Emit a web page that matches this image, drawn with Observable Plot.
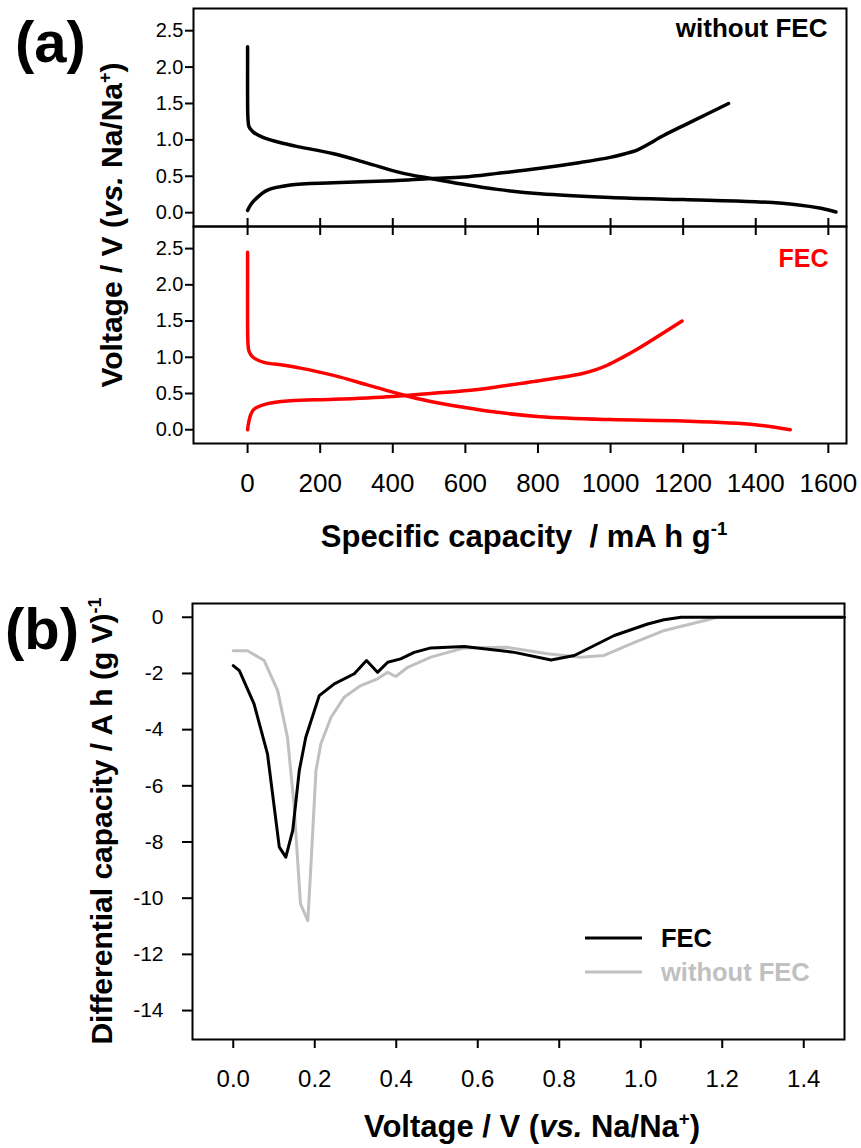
<!DOCTYPE html>
<html>
<head>
<meta charset="utf-8">
<script src="https://cdn.jsdelivr.net/npm/d3@7"></script>
<script src="https://cdn.jsdelivr.net/npm/@observablehq/plot@0.6"></script>
<style>
  html, body { margin: 0; padding: 0; background: #fff; }
  #page { position: relative; width: 861px; height: 1148px; overflow: hidden;
          font-family: "Liberation Sans", Arial, sans-serif; color: #000; background: #fff; }
  #page > svg { position: absolute; left: 0; margin: 0; background: transparent; overflow: visible; }
</style>
</head>
<body>
<div id="page"></div>
<script>
// ---------- DATA ----------
// Panel (a): tick values
const capacityTicks = [0, 200, 400, 600, 800, 1000, 1200, 1400, 1600];
const voltageTicksA = [0, 0.5, 1.0, 1.5, 2.0, 2.5];

// Panel (a) top: without FEC  [capacity mA h/g, voltage V]
const noFecDischarge = [
  [0, 2.28], [0, 2.0], [0, 1.6], [1, 1.3], [4, 1.18], [15, 1.11], [44, 1.03], [100, 0.95],
  [146, 0.90], [237, 0.81], [330, 0.68], [421, 0.55], [504, 0.47], [595, 0.39],
  [688, 0.32], [806, 0.26], [999, 0.21], [1200, 0.18], [1398, 0.15], [1513, 0.11],
  [1580, 0.06], [1621, 0.01]
];
const noFecCharge = [
  [0, 0.03], [10, 0.12], [27, 0.21], [55, 0.31], [118, 0.38], [237, 0.41], [400, 0.44],
  [504, 0.47], [595, 0.49], [688, 0.54], [806, 0.61], [917, 0.69], [999, 0.76],
  [1040, 0.81], [1073, 0.86], [1100, 0.93], [1146, 1.06], [1219, 1.24], [1325, 1.50]
];

// Panel (a) bottom: FEC
const fecDischarge = [
  [0, 2.45], [0, 2.0], [0, 1.5], [1, 1.2], [4, 1.08], [15, 1.0], [45, 0.93], [100, 0.89],
  [146, 0.85], [237, 0.75], [330, 0.62], [421, 0.49], [504, 0.39], [595, 0.31],
  [688, 0.24], [806, 0.18], [999, 0.14], [1200, 0.12], [1398, 0.07], [1495, 0.0]
];
const fecCharge = [
  [0, 0.0], [3, 0.1], [8, 0.2], [17, 0.28], [55, 0.36], [118, 0.40], [237, 0.42],
  [400, 0.46], [504, 0.50], [641, 0.56], [779, 0.66], [917, 0.77], [960, 0.83],
  [991, 0.89], [1030, 0.99], [1073, 1.11], [1197, 1.50]
];

// Panel (b): differential capacity  [voltage V, dQ/dV A h (g V)^-1]
const voltageTicksB = [0.0, 0.2, 0.4, 0.6, 0.8, 1.0, 1.2, 1.4];
const dqdvTicks = [-14, -12, -10, -8, -6, -4, -2, 0];
const dqdvFec = [
  [0.0, -1.72], [0.015, -1.9], [0.051, -3.08], [0.084, -4.86], [0.113, -8.18],
  [0.129, -8.54], [0.146, -7.59], [0.162, -5.46], [0.178, -4.27], [0.211, -2.79],
  [0.248, -2.37], [0.297, -2.01], [0.327, -1.54], [0.354, -1.96], [0.379, -1.6],
  [0.411, -1.48], [0.444, -1.25], [0.485, -1.09], [0.567, -1.04], [0.69, -1.25],
  [0.78, -1.52], [0.837, -1.36], [0.935, -0.65], [1.017, -0.24], [1.057, -0.09],
  [1.099, 0.0], [1.2, 0.0], [1.3, 0.0], [1.4, 0.0], [1.5, 0.0]
];
const dqdvNoFec = [
  [0.0, -1.19], [0.035, -1.19], [0.076, -1.54], [0.109, -2.61], [0.133, -4.27],
  [0.149, -6.64], [0.165, -10.2], [0.183, -10.8], [0.19, -9.0], [0.203, -5.46],
  [0.215, -4.5], [0.24, -3.56], [0.272, -2.85], [0.313, -2.43], [0.354, -2.19],
  [0.379, -1.96], [0.399, -2.11], [0.428, -1.78], [0.485, -1.42], [0.567, -1.09],
  [0.673, -1.07], [0.771, -1.30], [0.853, -1.42], [0.91, -1.36], [0.976, -0.95],
  [1.058, -0.47], [1.14, -0.18], [1.189, 0.0], [1.3, 0.0], [1.4, 0.0], [1.5, 0.0]
];

const RED = "#ff0000";
const GRAY = "#c0c0c0";

// ---------- BUILD ----------
const page = document.getElementById("page");
const fontFamily = '"Liberation Sans", Arial, sans-serif';
const baseStyle = {fontFamily, background: "transparent", overflow: "visible", color: "#000"};
const fx = d => d[0], fy = d => d[1];
const capDomain = [-149, 1650];
const vDomainA = [-0.19, 2.805];

function place(el, top) {
  el.style.position = "absolute";
  el.style.top = top + "px";
  el.style.left = "0px";
  page.appendChild(el);
}

// Panel (a) top: without FEC
const a1 = Plot.plot({
  width: 861, height: 236,
  marginTop: 8, marginBottom: 10, marginLeft: 193, marginRight: 15,
  style: baseStyle,
  x: {domain: capDomain},
  y: {domain: vDomainA},
  marks: [
    Plot.frame({stroke: "black", strokeWidth: 2}),
    Plot.axisY({ticks: voltageTicksA, tickSize: 8, tickPadding: 2, fontSize: 20,
                tickFormat: d3.format(".1f"), label: null, strokeWidth: 2}),
    Plot.axisX({ticks: capacityTicks, anchor: "bottom", tickSize: 9,
                tickFormat: () => "", label: null, strokeWidth: 2}),
    Plot.line(noFecDischarge, {x: fx, y: fy, stroke: "black", strokeWidth: 3.5, curve: "catmull-rom"}),
    Plot.line(noFecCharge, {x: fx, y: fy, stroke: "black", strokeWidth: 3.5, curve: "catmull-rom"}),
    Plot.text(["without FEC"], {frameAnchor: "top-right", textAnchor: "end", lineAnchor: "bottom",
                dx: -19, dy: 28.7, fontSize: 26, fontWeight: "bold", fill: "black"})
  ]
});
place(a1, 0);

// Panel (a) bottom: FEC
const a2 = Plot.plot({
  width: 861, height: 286,
  marginTop: 9, marginBottom: 60, marginLeft: 193, marginRight: 15,
  style: baseStyle,
  x: {domain: capDomain},
  y: {domain: vDomainA},
  marks: [
    Plot.frame({stroke: "black", strokeWidth: 2}),
    Plot.axisY({ticks: voltageTicksA, tickSize: 8, tickPadding: 2, fontSize: 20,
                tickFormat: d3.format(".1f"), label: null, strokeWidth: 2}),
    Plot.axisX({ticks: capacityTicks, anchor: "top", tickSize: 9,
                tickFormat: () => "", label: null, strokeWidth: 2}),
    Plot.axisX({ticks: capacityTicks, anchor: "bottom", tickSize: 10, tickPadding: 20, fontSize: 26,
                tickFormat: d => String(d), label: null, strokeWidth: 2}),
    Plot.line(fecDischarge, {x: fx, y: fy, stroke: RED, strokeWidth: 3.5, curve: "catmull-rom"}),
    Plot.line(fecCharge, {x: fx, y: fy, stroke: RED, strokeWidth: 3.5, curve: "catmull-rom"}),
    Plot.text(["FEC"], {frameAnchor: "top-right", textAnchor: "end", lineAnchor: "bottom",
                dx: -18, dy: 40.7, fontSize: 25, fontWeight: "bold", fill: RED})
  ]
});
place(a2, 217);

// Panel (b)
const b = Plot.plot({
  width: 861, height: 539,
  marginTop: 43, marginBottom: 60, marginLeft: 192, marginRight: 17,
  style: baseStyle,
  x: {domain: [-0.1, 1.5]},
  y: {domain: [-15.03, 0.49]},
  marks: [
    Plot.frame({stroke: "black", strokeWidth: 2}),
    Plot.axisY({ticks: dqdvTicks, tickSize: 10, tickPadding: 19, fontSize: 21,
                tickFormat: d => String(d), label: null, strokeWidth: 2}),
    Plot.axisX({ticks: voltageTicksB, anchor: "bottom", tickSize: 9, tickPadding: 21, fontSize: 24,
                tickFormat: d => d.toFixed(1), label: null, strokeWidth: 2}),
    Plot.line(dqdvNoFec, {x: fx, y: fy, stroke: GRAY, strokeWidth: 3}),
    Plot.line(dqdvFec, {x: fx, y: fy, stroke: "black", strokeWidth: 3})
  ]
});
place(b, 560);

// ---------- Overlay: panel letters, axis titles, legend ----------
const svg = d3.create("svg")
  .attr("width", 861).attr("height", 1148)
  .style("position", "absolute").style("top", "0px").style("left", "0px")
  .style("pointer-events", "none")
  .style("font-family", fontFamily);

function title(x, y, rotate, parts, size) {
  const t = svg.append("text")
    .attr("transform", `translate(${x},${y})` + (rotate ? " rotate(-90)" : ""))
    .attr("text-anchor", "middle")
    .attr("font-size", size)
    .attr("font-weight", "bold")
    .attr("fill", "black")
    .attr("xml:space", "preserve")
    .style("white-space", "pre");
  let shift = 0;
  for (const p of parts) {
    const s = t.append("tspan").text(p.t);
    if (p.i) s.attr("font-style", "italic");
    if (p.sup) {
      s.attr("font-size", size * 0.6).attr("dy", -size * 0.38);
      shift = size * 0.38;
    } else if (shift) {
      s.attr("dy", shift);
      shift = 0;
    }
  }
  return t;
}

svg.append("text").attr("x", 15).attr("y", 62).attr("font-size", 58)
  .attr("font-weight", "bold").attr("fill", "black").text("(a)");
svg.append("text").attr("x", 5).attr("y", 649).attr("font-size", 58)
  .attr("font-weight", "bold").attr("fill", "black").text("(b)");

title(122, 225, true, [{t: "Voltage / V ("}, {t: "vs.", i: true}, {t: " Na/Na"}, {t: "+", sup: true}, {t: ")"}], 30);
title(524, 547, false, [{t: "Specific capacity  / mA h g"}, {t: "-1", sup: true}], 31);
title(112, 821, true, [{t: "Differential capacity / A h (g V)"}, {t: "-1", sup: true}], 30);
title(532, 1137, false, [{t: "Voltage / V ("}, {t: "vs.", i: true}, {t: " Na/Na"}, {t: "+", sup: true}, {t: ")"}], 31);

// Legend for panel (b)
const legendItems = [
  {label: "FEC", color: "black", y: 938},
  {label: "without FEC", color: GRAY, y: 972}
];
for (const it of legendItems) {
  svg.append("line").attr("x1", 585).attr("x2", 642).attr("y1", it.y).attr("y2", it.y)
    .attr("stroke", it.color).attr("stroke-width", 3);
  svg.append("text").attr("x", 661).attr("y", it.y + 9).attr("font-size", 25.5)
    .attr("font-weight", "bold").attr("fill", it.color).text(it.label);
}

page.appendChild(svg.node());
</script>
</body>
</html>
